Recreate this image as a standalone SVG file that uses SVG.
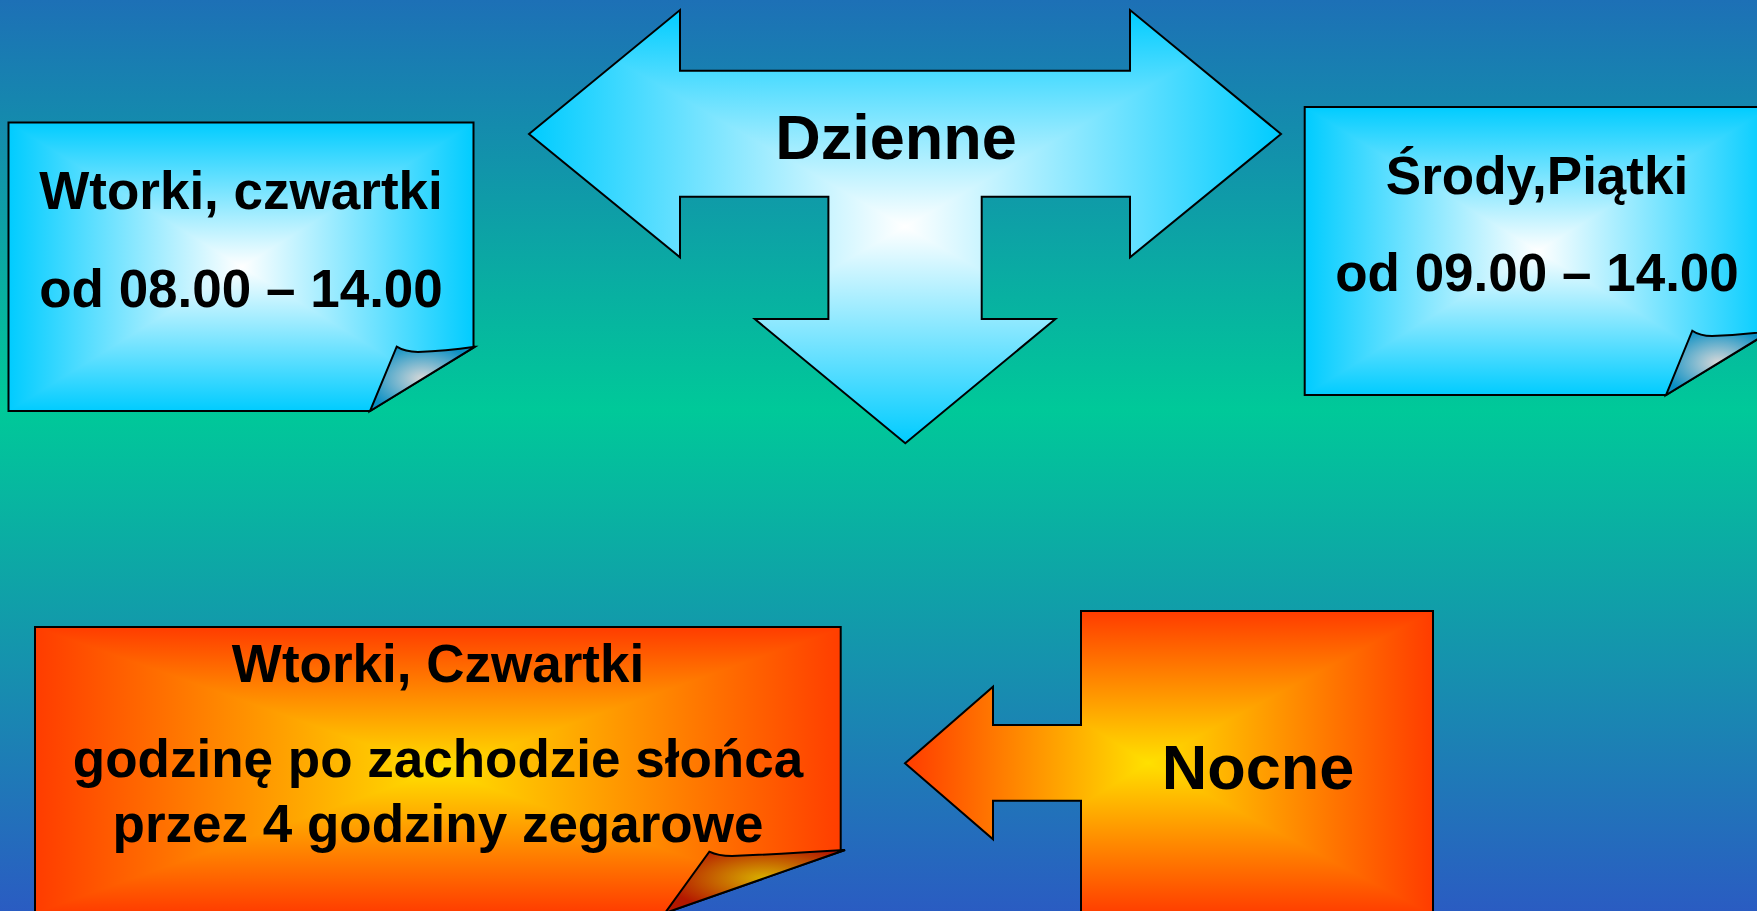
<svg xmlns="http://www.w3.org/2000/svg" width="1757" height="911" viewBox="0 0 1757 911">
<defs>
<linearGradient id="bg" x1="0" y1="0" x2="0" y2="1">
<stop offset="0" stop-color="#1d70b6"/>
<stop offset="0.45" stop-color="#00c999"/>
<stop offset="1" stop-color="#2a5cc2"/>
</linearGradient>
<linearGradient id="cyH" x1="0" y1="0" x2="1" y2="0">
<stop offset="0" stop-color="#00ccff"/>
<stop offset="0.5" stop-color="#ffffff"/>
<stop offset="1" stop-color="#00ccff"/>
</linearGradient>
<linearGradient id="cyV" x1="0" y1="0" x2="0" y2="1">
<stop offset="0" stop-color="#00ccff"/>
<stop offset="0.5" stop-color="#ffffff"/>
<stop offset="1" stop-color="#00ccff"/>
</linearGradient>
<linearGradient id="orH" x1="0" y1="0" x2="1" y2="0">
<stop offset="0" stop-color="#ff3c00"/>
<stop offset="0.46" stop-color="#ffe000"/>
<stop offset="1" stop-color="#ff3c00"/>
</linearGradient>
<linearGradient id="orV" x1="0" y1="0" x2="0" y2="1">
<stop offset="0" stop-color="#ff3c00"/>
<stop offset="0.5" stop-color="#ffe000"/>
<stop offset="1" stop-color="#ff3c00"/>
</linearGradient>
<linearGradient id="orH2" x1="0" y1="0" x2="1" y2="0">
<stop offset="0" stop-color="#ff3c00"/>
<stop offset="0.5" stop-color="#ffe000"/>
<stop offset="1" stop-color="#ff3c00"/>
</linearGradient>
<radialGradient id="curlC" cx="0.5" cy="0.5" r="0.55">
<stop offset="0" stop-color="#d8d8d8"/>
<stop offset="1" stop-color="#0a90c4"/>
</radialGradient>
<radialGradient id="curlO" cx="0.55" cy="0.45" r="0.55">
<stop offset="0" stop-color="#d8b000"/>
<stop offset="1" stop-color="#b41800"/>
</radialGradient>
</defs>
<style>
.ln{stroke:#000;stroke-width:2;stroke-linejoin:miter}
.dk{mix-blend-mode:darken}
.t{font-family:"Liberation Sans",Arial,sans-serif;font-weight:bold;fill:#000;text-anchor:middle}
.s53{font-size:53px}
.s63{font-size:63px}
</style>
<rect x="0" y="0" width="1757" height="911" fill="url(#bg)"/>

<g id="box-wtorki-dzienne">
<g style="isolation:isolate">
<path d="M8.5,122.5 H473.5 V346.7 L475,346.7 L370,411 H8.5 Z" fill="url(#cyH)"/>
<path class="dk" d="M8.5,122.5 H473.5 V346.7 L475,346.7 L370,411 H8.5 Z" fill="url(#cyV)"/>
</g>
<path class="ln" d="M8.5,122.5 H473.5 V346.7 L475,346.7 L370,411 H8.5 Z" fill="none"/>
<path class="ln" d="M396.7,346.7 Q405,352 418,352 Q445,351 475,346.7 L370,411 Z" fill="url(#curlC)"/>
<text class="t s53" x="241" y="209">Wtorki, czwartki</text>
<text class="t s53" x="241" y="307">od 08.00 – 14.00</text>
</g>

<g id="arrow-dzienne">
<g style="isolation:isolate">
<path d="M529,134 L680,10 V70.7 H1130 V10 L1281,134 L1130,257.3 V196.7 H981.7 V319 H1055.4 L905.3,443.3 L754.8,319 H828.4 V196.7 H680 V257.3 Z" fill="url(#cyH)"/>
<path class="dk" d="M529,134 L680,10 V70.7 H1130 V10 L1281,134 L1130,257.3 V196.7 H981.7 V319 H1055.4 L905.3,443.3 L754.8,319 H828.4 V196.7 H680 V257.3 Z" fill="url(#cyV)"/>
</g>
<path class="ln" d="M529,134 L680,10 V70.7 H1130 V10 L1281,134 L1130,257.3 V196.7 H981.7 V319 H1055.4 L905.3,443.3 L754.8,319 H828.4 V196.7 H680 V257.3 Z" fill="none"/>
<text class="t s63" x="896" y="159">Dzienne</text>
</g>

<g id="box-srody-piatki">
<g style="isolation:isolate">
<path d="M1304.7,107 H1769 V331 L1771,331 L1666,395 H1304.7 Z" fill="url(#cyH)"/>
<path class="dk" d="M1304.7,107 H1769 V331 L1771,331 L1666,395 H1304.7 Z" fill="url(#cyV)"/>
</g>
<path class="ln" d="M1304.7,107 H1769 V331 L1771,331 L1666,395 H1304.7 Z" fill="none"/>
<path class="ln" d="M1692.3,330.7 Q1700,336 1712,336 Q1740,335 1771,331 L1666,395 Z" fill="url(#curlC)"/>
<text class="t s53" x="1537" y="194">Środy,Piątki</text>
<text class="t s53" x="1537" y="291">od 09.00 – 14.00</text>
</g>

<g id="box-wtorki-nocne">
<g style="isolation:isolate">
<path d="M35,627 H840.7 V850 L845,850 L665,913 H35 Z" fill="url(#orH2)"/>
<path class="dk" d="M35,627 H840.7 V850 L845,850 L665,913 H35 Z" fill="url(#orV)"/>
</g>
<path class="ln" d="M35,627 H840.7 V850 L845,850 L665,913 H35 Z" fill="none"/>
<path class="ln" d="M709.3,851.7 Q718,856 732,856 Q780,854 845,850 L665,913 Z" fill="url(#curlO)"/>
<text class="t s53" x="438" y="682">Wtorki, Czwartki</text>
<text class="t s53" x="438" y="777">godzinę po zachodzie słońca</text>
<text class="t s53" x="438" y="842">przez 4 godziny zegarowe</text>
</g>

<g id="arrow-nocne">
<g style="isolation:isolate">
<path d="M905,763.3 L993,686.7 V725 H1081 V611 H1433 V915 H1081 V800.7 H993 V839.3 Z" fill="url(#orH)"/>
<path class="dk" d="M905,763.3 L993,686.7 V725 H1081 V611 H1433 V915 H1081 V800.7 H993 V839.3 Z" fill="url(#orV)"/>
</g>
<path class="ln" d="M905,763.3 L993,686.7 V725 H1081 V611 H1433 V915 H1081 V800.7 H993 V839.3 Z" fill="none"/>
<text class="t s63" x="1258" y="789">Nocne</text>
</g>

<g id="connectors"></g>
</svg>
